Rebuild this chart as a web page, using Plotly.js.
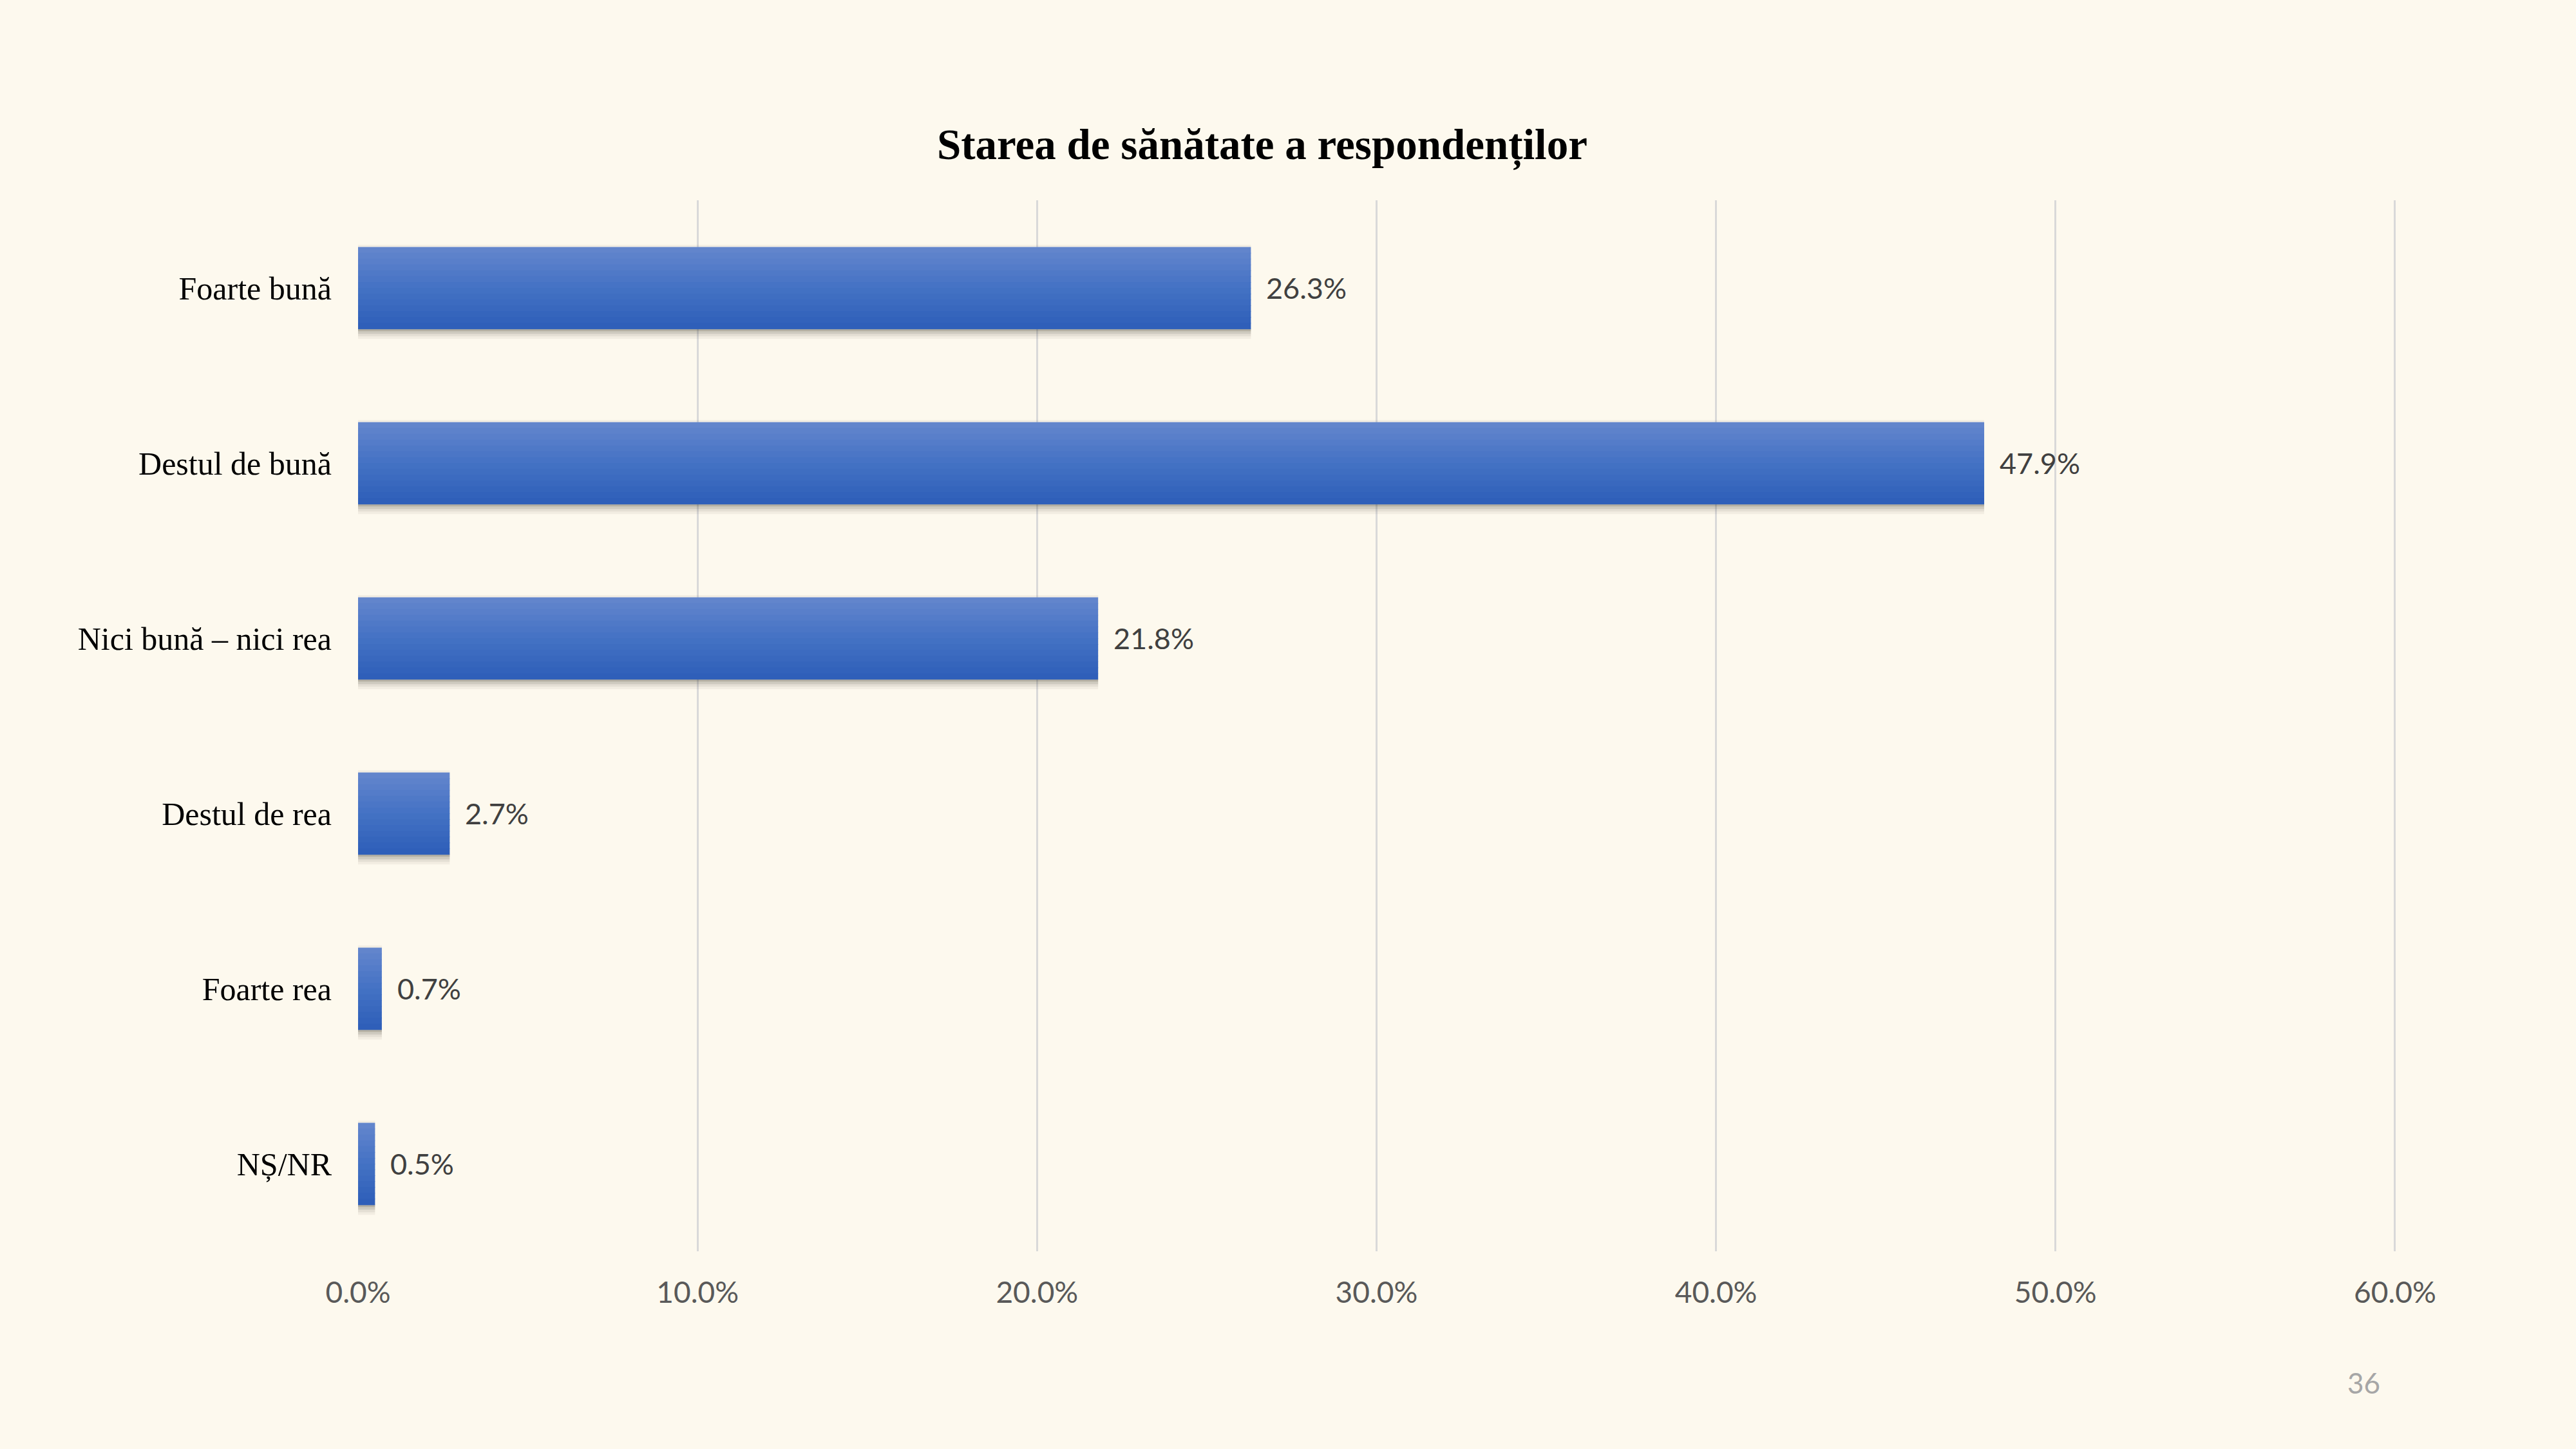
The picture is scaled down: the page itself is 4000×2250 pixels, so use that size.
<!DOCTYPE html>
<html>
<head>
<meta charset="utf-8">
<script src="https://cdn.plot.ly/plotly-3.0.1.min.js"></script>
<style>
html,body{margin:0;padding:0;background:#FDF9EE;}
#chart{width:4000px;height:2250px;}
</style>
</head>
<body>
<div id="chart"></div>
<script>
const categories = ["Foarte bună", "Destul de bună", "Nici bună – nici rea", "Destul de rea", "Foarte rea", "NȘ/NR"];
const values = [0.263, 0.479, 0.218, 0.027, 0.007, 0.005];
const tickValues = [0, 0.1, 0.2, 0.3, 0.4, 0.5, 0.6];
const tickLabels = ["0.0%", "10.0%", "20.0%", "30.0%", "40.0%", "50.0%", "60.0%"];
const chartTitle = "Starea de sănătate a respondenților";
const pageNumber = "36";

const bg = "#FDF9EE";
const W = 0.467;            // bar thickness (category units)
const N = 14;               // gradient slices
const topC = [100, 134, 205], midC = [68, 114, 196], botC = [45, 94, 184];
function lerp(a, b, t) { return a.map((v, i) => Math.round(v + (b[i] - v) * t)); }
function sliceColor(t) {
  const c = t < 0.5 ? lerp(topC, midC, t / 0.5) : lerp(midC, botC, (t - 0.5) / 0.5);
  return "rgb(" + c.join(",") + ")";
}

const traces = [];
// soft shadow below each bar
const shadowAlphas = [0.38, 0.24, 0.13, 0.06];
const sh = 0.0145;
shadowAlphas.forEach((a, k) => {
  traces.push({
    type: "bar", orientation: "h", x: values, y: categories,
    width: sh, offset: W / 2 + k * sh,
    marker: {color: "rgba(60,55,40," + a + ")", line: {width: 0}},
    hoverinfo: "skip"
  });
});
// faint shadow above
traces.push({
  type: "bar", orientation: "h", x: values, y: categories,
  width: 0.012, offset: -W / 2 - 0.012,
  marker: {color: "rgba(60,55,40,0.06)", line: {width: 0}},
  hoverinfo: "skip"
});
// gradient bar body
for (let k = 0; k < N; k++) {
  traces.push({
    type: "bar", orientation: "h", x: values, y: categories,
    width: W / N + 0.003, offset: -W / 2 + k * W / N,
    marker: {color: sliceColor((k + 0.5) / N), line: {width: 0}},
    hoverinfo: "skip"
  });
}

const labelAnnotations = values.map((v, i) => ({
  x: v, y: categories[i], xref: "x", yref: "y",
  text: (v * 100).toFixed(1) + "%",
  xanchor: "left", yanchor: "middle", xshift: 22,
  showarrow: false,
  font: {family: "Lato, 'Open Sans', sans-serif", size: 45, color: "#404040"}
}));

const layout = {
  width: 4000,
  height: 2250,
  paper_bgcolor: bg,
  plot_bgcolor: bg,
  showlegend: false,
  barmode: "overlay",
  margin: {l: 556, r: 279, t: 311, b: 307, pad: 0},
  title: {
    text: "<b>" + chartTitle + "</b>",
    font: {family: "'Liberation Serif', 'Times New Roman', serif", size: 67, color: "#000000"},
    x: 1960 / 4000, xanchor: "center", xref: "container",
    y: 1 - 224 / 2250, yanchor: "middle", yref: "container"
  },
  xaxis: {
    range: [0, 0.6004],
    tickvals: tickValues,
    ticktext: tickLabels,
    showgrid: true,
    gridcolor: "#D9D9D9",
    gridwidth: 3,
    zeroline: false,
    showline: false,
    ticks: "",
    ticklabelstandoff: 33,
    tickfont: {family: "Lato, 'Open Sans', sans-serif", size: 46, color: "#595959"},
    fixedrange: true
  },
  yaxis: {
    autorange: "reversed",
    showgrid: false,
    zeroline: false,
    showline: false,
    ticks: "",
    ticklabelstandoff: 40,
    tickfont: {family: "'Liberation Serif', 'Times New Roman', serif", size: 50, color: "#000000"},
    fixedrange: true
  },
  annotations: labelAnnotations.concat([{
    text: pageNumber,
    xref: "paper", yref: "paper",
    x: (3670 - 556) / (4000 - 556 - 279), y: -(2147 - 1943) / (2250 - 311 - 307),
    xanchor: "center", yanchor: "middle",
    showarrow: false,
    font: {family: "Lato, 'Open Sans', sans-serif", size: 44, color: "#A6A6A6"}
  }])
};

Plotly.newPlot("chart", traces, layout, {displayModeBar: false, staticPlot: true});
</script>
</body>
</html>
